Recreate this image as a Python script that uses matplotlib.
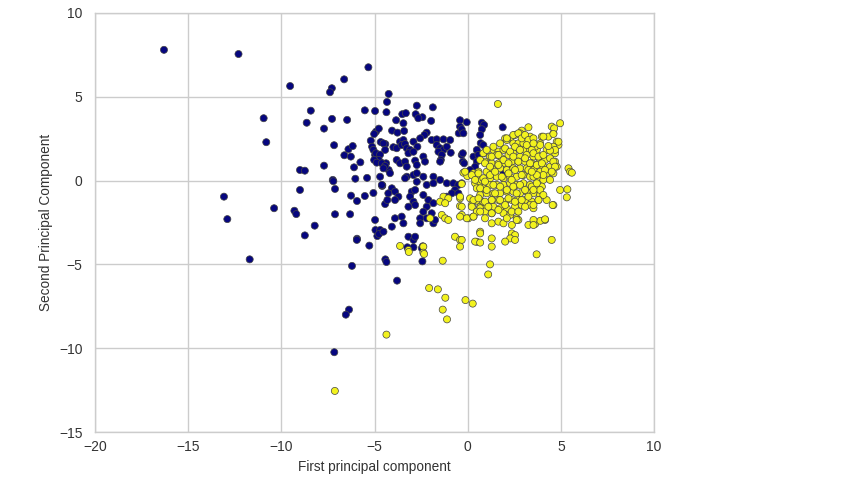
import numpy as np
from matplotlib import pyplot as plt
from matplotlib.colors import ListedColormap

# first and second principal component, class 0 (dark points)
pc1_0 = [-16.3, -12.3, -9.53, -10.95, -10.81, -13.08, -12.9, -11.7, -10.39, -9.3,
         -9.2, -9.0, -8.74, -9.0, -8.74, -8.21, -8.64, -8.42, -7.71, -7.71,
         -7.29, -7.39, -6.63, -5.33, -7.28, -6.47, -7.17, -6.62, -6.40, -6.17,
         -6.27, -5.76, -6.10, -7.24, -7.21, -6.03, -5.40, -7.12, -6.26, -5.94,
         -5.52, -5.06, -4.59, -4.43, -4.31, -7.12, -6.31, -4.97, -4.95, -4.70,
         -4.85, -4.76, -5.94, -5.28, -4.42, -5.95, -6.21, -4.36, -2.43, -3.79,
         -6.37, -6.54, -7.16, -3.24, -2.91, -2.41, -5.52, -4.97, -4.36, -3.84,
         -4.24, -4.33, -4.92, -4.77, -5.02, -4.06, -3.77, -5.20, -5.13, -5.06,
         -4.97, -4.92, -4.70, -4.77, -4.56, -4.67, -4.42, -5.02, -4.88, -4.24,
         -4.70, -4.38, -4.58, -3.99, -3.81, -2.73, -1.87, -3.51, -3.32, -2.79,
         -2.43, -3.45, -2.65, -1.96, -0.41, -0.05, -3.41, -0.41, -0.48, -2.20,
         -2.32, -2.55, -2.91, -2.70, -1.93, -1.66, -1.30, -0.94, -3.63, -3.45,
         -3.54, -3.36, -3.27, -4.52, -4.43, -3.09, -3.18, -2.91, -1.66, -1.48,
         -1.30, -1.12, -1.57, -1.39, -1.44, -1.48, -0.91, -0.32, -0.26, -4.61,
         -4.43, -4.52, -3.81, -3.63, -3.36, -3.27, -2.82, -2.73, -2.38, -2.29,
         -4.17, -3.27, -2.91, -2.73, -2.38, -1.84, -3.36, -2.73, -2.20, -1.84,
         -1.48, -1.12, -0.77, -0.50, -0.68, -0.85, -1.12, -0.50, -0.32, -4.61,
         -4.07, -3.90, -4.26, -3.72, -3.90, -3.00, -2.82, -3.09, -2.91, -2.82,
         -3.18, -2.38, -2.11, -1.84, -2.20, -2.38, -1.93, -3.90, -3.54, -3.45,
         -4.07, -4.52, -2.55, -2.55, -2.20, -1.84, -1.75, -3.18, -2.91, -2.82,
         -2.46, 0.76, 0.88, 1.88, 0.76, -0.32, -0.23, 0.67, 0.70, 0.84,
         0.49, -0.26, -0.19, 0.31, 0.49, 0.40, 0.13, 0.58, 0.84, 1.92,
         2.28]
pc2_0 = [7.8, 7.55, 5.64, 3.72, 2.29, -0.96, -2.3, -4.7, -1.65, -1.8,
         -2.0, 0.63, 0.59, -0.56, -3.27, -2.69, 3.45, 4.17, 3.10, 0.89,
         5.51, 5.27, 6.04, 6.76, 3.68, 3.62, 2.11, 1.51, 1.87, 2.06,
         1.43, 1.09, 0.79, 0.04, -0.04, 0.11, 0.16, -0.50, -0.90, -1.22,
         -0.92, -0.74, -0.32, -1.40, -1.16, -2.01, -2.01, -2.35, -2.95, -2.95,
         -3.31, -3.19, -3.47, -3.88, -4.70, -3.54, -5.09, -4.86, -4.82, -5.97,
         -7.70, -8.00, -10.24, -3.98, -3.98, -3.92, 4.19, 4.15, 4.08, 3.60,
         5.17, 4.69, 2.92, 3.10, 2.78, 2.98, 2.86, 2.38, 2.02, 1.83,
         1.53, 1.63, 1.55, 1.23, 1.03, 2.30, 2.18, 1.23, 1.07, 0.63,
         0.23, 1.03, -0.28, 1.99, 1.93, 4.47, 4.37, 3.96, 4.02, 3.96,
         3.78, 3.42, 3.72, 3.56, 3.60, 3.48, 2.96, 3.22, 2.82, 2.86,
         2.72, 2.52, 2.32, 2.02, 2.42, 2.46, 2.46, 2.42, 2.32, 2.42,
         2.12, 2.18, 1.93, 2.22, 1.83, 1.83, 1.63, 1.72, 2.12, 1.93,
         1.83, 2.02, 1.72, 1.53, 1.23, 1.13, 1.66, 1.53, 1.13, 1.03,
         0.87, 0.73, 1.23, 1.03, 1.13, 0.83, 1.19, 0.93, 1.43, 1.13,
         0.44, 0.23, 0.33, 0.44, 0.23, 0.23, 0.14, -0.07, -0.26, -0.16,
         0.04, -0.16, -0.16, -0.26, -0.56, -0.76, -0.96, -0.76, -0.16, -0.26,
         -0.46, -0.66, -0.76, -0.96, -1.16, -0.66, -0.56, -0.96, -1.26, -1.46,
         -1.56, -0.86, -1.16, -1.35, -1.56, -1.86, -1.95, -2.25, -2.15, -2.55,
         -2.75, -3.05, -2.25, -2.55, -2.25, -2.55, -2.35, -3.35, -3.54, -3.35,
         -4.04, 3.45, 3.32, 3.18, 3.06, 3.06, 2.82, 2.72, 2.23, 2.12,
         1.83, 1.63, 1.03, 1.43, 1.13, 0.83, 0.63, 1.53, 1.63, 0.53,
         0.83]

# class 1 (yellow points)
pc1_1 = [-0.23, -0.02, 0.31, 0.49, 0.40, 0.67, -0.32, -1.30, -1.04, -1.48,
         -1.21, -0.41, 0.13, 0.49, 0.22, 0.67, -0.41, -0.32, 0.04, 0.31,
         0.49, -1.39, -1.21, -1.04, -2.02, -0.68, -0.41, 0.49, 0.67, -3.18,
         -2.38, -2.38, -3.63, -3.16, -2.34, -1.34, -2.07, -1.60, -1.20, -0.12,
         0.27, -1.34, -1.11, -4.36, -7.13, 1.62, 4.96, 4.51, 3.26, 4.60,
         2.90, 2.99, 3.35, 2.81, 2.54, 2.28, 2.01, 3.98, 4.33, 4.78,
         4.87, 4.42, 4.60, 3.89, 3.71, 1.38, 1.65, 1.92, 2.10, 2.45,
         2.72, 2.99, 3.26, 3.44, 3.62, 2.72, 3.08, 3.35, 4.24, 4.69,
         0.84, 1.20, 1.56, 1.83, 2.19, 2.45, 2.81, 3.17, 3.53, 3.89,
         4.15, 4.42, 4.69, 0.93, 1.29, 1.65, 2.01, 2.37, 2.72, 3.08,
         3.44, 3.80, 4.06, 4.42, 4.78, 5.41, 5.50, -0.14, 0.22, 0.58,
         1.02, 1.38, 1.74, 2.10, 2.45, 2.81, 3.17, 3.53, 3.89, 4.24,
         4.60, 0.40, 0.76, 1.20, 1.56, 1.92, 2.28, 2.63, 2.99, 3.35,
         3.71, 4.06, 4.42, 0.49, 0.84, 1.20, 1.56, 1.92, 2.28, 2.63,
         2.99, 3.35, 3.71, 3.98, 4.96, 5.35, 5.32, 0.67, 1.02, 1.38,
         1.74, 2.10, 2.45, 2.81, 3.17, 3.53, 3.89, -0.41, 0.31, 0.84,
         1.29, 1.65, 2.01, 2.37, 2.72, 3.08, 3.44, 3.80, 4.24, -0.32,
         0.22, 0.67, 1.02, 1.38, 1.74, 2.10, 2.54, 2.90, 3.35, 4.60,
         0.49, 0.93, 1.29, 1.92, 2.28, 2.63, -0.05, 0.31, 1.29, 1.65,
         1.92, 2.37, 2.72, 3.26, 3.62, 4.15, -0.41, 0.67, 1.29, 2.37,
         2.54, 2.28, 0.40, 0.67, 1.29, 2.01, 2.54, 4.51, -0.32, -0.41,
         3.7, 1.2, 1.1, 3.9,
         2.10, 2.45, 2.72, 2.90, 3.08, 3.26, 3.53, 1.02, 1.38, 1.74,
         2.01, 2.28, 2.54, 2.81, 3.17, 3.44, 0.67, 0.93, 1.29, 1.65,
         1.92, 2.19, 2.45, 2.72, 3.08, 3.35, 1.20, 1.65, 0.58, 0.84,
         1.20, 1.47, 1.83, 2.19, 2.54, 2.90, 3.26, 3.53, 0.93, 2.36,
         0.67, 1.02, 1.38, 1.74, 2.10, 2.45, 2.81, 3.08, 3.44, 1.47,
         2.63, 0.58, 0.93, 1.29, 1.74, 2.19, 2.54, 2.90, 3.26, 1.11,
         2.01, 3.08, 0.67, 1.29, 1.65, 2.36, 2.72, 3.53, 0.93, 2.10,
         2.63,
         4.64, 4.60, 4.06, 4.87, 4.69, 4.42, 3.89, 4.33, 3.53, 3.53,
         3.80, 4.06, 4.60, 4.69, 3.71, 3.98, 4.15, 4.51, 4.06, 3.71,
         3.44, 5.59, 3.71, 3.89, 4.06, 3.53, 3.80, 3.53, 4.56, 4.15,
         3.53, 3.53]
pc2_1 = [0.47, 0.27, 0.44, 0.14, -0.16, -0.07, -0.20, -0.96, -1.06, -1.26,
         -1.35, -1.06, -1.06, -1.20, -1.46, -1.56, -1.52, -2.05, -2.25, -2.15,
         -1.86, -2.05, -2.25, -2.35, -2.25, -3.35, -3.54, -3.65, -3.05, -4.14,
         -3.94, -4.30, -3.90, -4.26, -4.38, -4.78, -6.41, -6.49, -6.99, -7.13,
         -7.34, -7.70, -8.28, -9.19, -12.55, 4.57, 3.42, 3.22, 3.18, 2.82,
         2.98, 2.72, 2.62, 2.82, 2.72, 2.52, 2.52, 2.62, 2.62, 2.32,
         2.12, 1.92, 2.02, 2.22, 1.83, 1.83, 1.73, 1.83, 2.42, 2.22,
         2.22, 2.22, 2.22, 2.32, 2.02, 1.92, 1.83, 1.83, 1.83, 1.63,
         1.63, 1.43, 1.53, 1.33, 1.53, 1.63, 1.43, 1.53, 1.43, 1.43,
         1.23, 1.33, 1.13, 1.13, 1.03, 1.03, 1.03, 1.13, 1.13, 1.13,
         1.03, 1.03, 0.83, 0.83, 0.83, 0.73, 0.53, 0.53, 0.33, 0.53,
         0.53, 0.63, 0.73, 0.63, 0.73, 0.73, 0.73, 0.63, 0.53, 0.43,
         0.43, 0.04, 0.04, 0.13, 0.23, 0.13, 0.23, 0.23, 0.33, 0.23,
         0.13, 0.04, 0.04, -0.46, -0.46, -0.26, -0.26, -0.26, -0.16, -0.26,
         -0.16, -0.26, -0.26, -0.36, -0.56, -0.52, -1.00, -0.86, -0.76, -0.76,
         -0.76, -0.66, -0.66, -0.76, -0.66, -0.76, -0.86, -0.96, -1.16, -1.26,
         -1.16, -1.16, -1.26, -1.16, -1.16, -1.16, -1.26, -1.16, -1.16, -1.56,
         -1.56, -1.65, -1.56, -1.56, -1.65, -1.65, -1.56, -1.46, -1.46, -1.46,
         -1.85, -1.85, -1.95, -1.95, -2.05, -2.25, -2.25, -2.15, -2.55, -2.45,
         -2.55, -2.65, -2.35, -2.65, -2.59, -2.35, -2.15, -3.15, -3.45, -3.15,
         -3.25, -3.45, -3.64, -3.70, -3.94, -3.64, -3.54, -3.54, -3.54, -3.94,
         -4.4, -5.0, -5.6, -2.4,
         2.52, 2.72, 2.82, 2.52, 2.72, 2.42, 2.52, 1.83, 2.02, 2.22,
         1.92, 1.73, 2.02, 1.83, 2.12, 1.83, 1.23, 1.03, 1.43, 1.53,
         1.23, 1.03, 1.43, 1.13, 1.33, 1.03, 0.83, 0.93, 0.43, 0.14,
         0.33, 0.53, 0.23, 0.43, 0.63, 0.33, 0.63, 0.23, -0.06, 0.04,
         -0.46, -0.56, -0.26, -0.36, -0.56, -0.36, -0.26, -0.56, -0.36, -0.76,
         -0.76, -1.06, -1.26, -1.16, -1.16, -1.06, -1.26, -1.16, -0.96, -1.56,
         -1.46, -1.56, -1.85, -1.95, -1.75, -1.85, -1.85, -1.65, -2.25, -2.25,
         -2.35,
         3.12, 2.78, 2.62, 2.32, 1.83, 1.79, 2.12, 2.06, 2.22, 1.63,
         1.43, 1.53, 1.13, 0.83, 0.93, 1.03, 0.63, 0.53, 0.33, 0.33,
         0.53, 0.47, -0.16, -0.56, -0.86, -0.56, -1.16, -1.46, -1.46, -2.31,
         -2.35, -2.65]

x = np.array(pc1_0 + pc1_1)
y = np.array(pc2_0 + pc2_1)
target = np.array([0] * len(pc1_0) + [1] * len(pc1_1))

plt.rcParams['font.family'] = ['Liberation Sans', 'DejaVu Sans']

fig = plt.figure(figsize=(8.44, 4.8), dpi=100)
ax = fig.add_axes([0.1126, 0.1, 0.6623, 0.873])
ax.set_axisbelow(True)
ax.grid(True, color='#cccccc', linewidth=1)
for s in ax.spines.values():
    s.set_color('#cccccc')
    s.set_linewidth(1)

cmap = ListedColormap(['#06067f', '#f2f21e'])
ax.scatter(x, y, c=target, cmap=cmap, s=26, edgecolors='#444444', linewidths=0.5)

ax.set_xlim(-20, 10)
ax.set_ylim(-15, 10)
ax.set_xticks([-20, -15, -10, -5, 0, 5, 10])
ax.set_yticks([-15, -10, -5, 0, 5, 10])
ax.tick_params(axis='both', length=0, labelsize=10, colors='#333333')
ax.tick_params(axis='x', pad=6)
ax.tick_params(axis='y', pad=9)
ax.set_xlabel('First principal component', fontsize=9.8, color='#333333')
ax.set_ylabel('Second Principal Component', fontsize=9.8, color='#333333')

fig.savefig('out.png', dpi=100)
